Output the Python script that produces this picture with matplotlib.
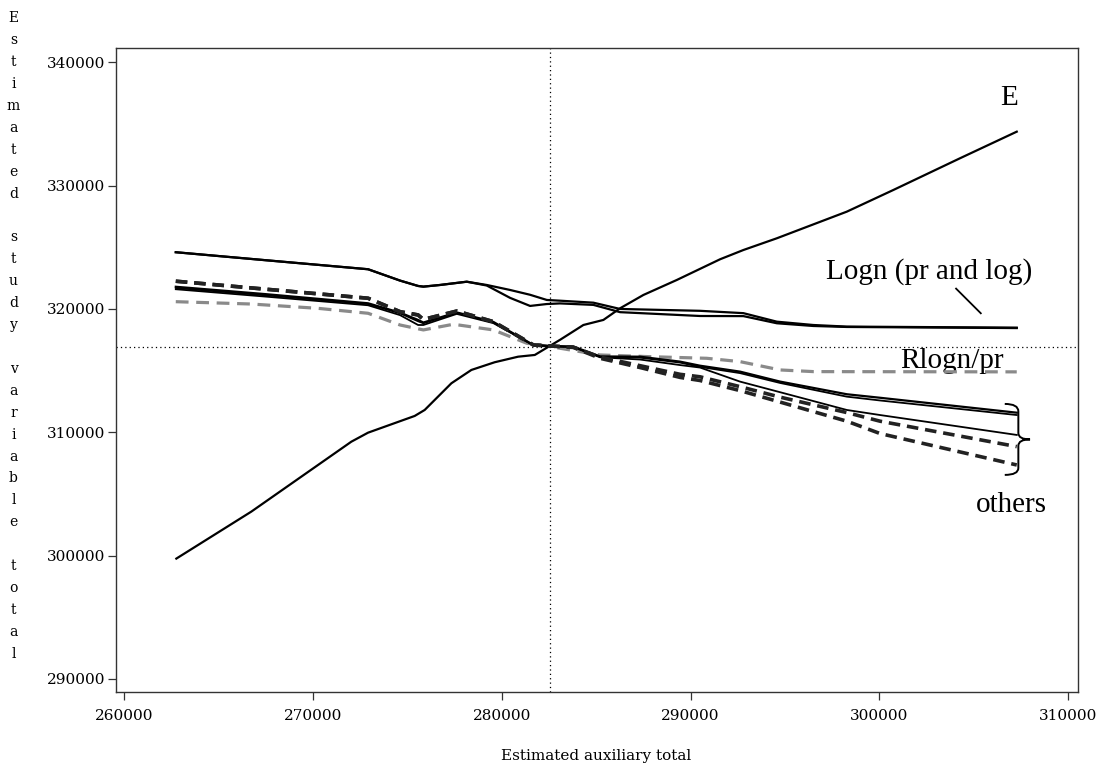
import matplotlib
matplotlib.use("Agg")
import matplotlib.pyplot as plt
from matplotlib.path import Path
from matplotlib.patches import PathPatch

# ---------------- data ----------------
x_ticks = [260000, 270000, 280000, 290000, 300000, 310000]
y_ticks = [290000, 300000, 310000, 320000, 330000, 340000]

x_ref = 282555   # vertical dotted reference line
y_ref = 316950   # horizontal dotted reference line

# E
e_x = [262750, 266725, 272025, 272910, 275380, 275910, 277325, 278385, 279620,
       280860, 281745, 282540, 283085, 284320, 285380, 286265, 287500, 289270,
       291565, 292800, 294570, 298280, 300750, 304280, 307285]
e_y = [299760, 303570, 309240, 309970, 311325, 311810, 313975, 315055, 315680,
       316130, 316270, 317000, 317500, 318700, 319110, 320055, 321135, 322350,
       324030, 324780, 325730, 327890, 329650, 332220, 334375]

# Logn (pr and log) - two lines
logn_x = [262720, 267500, 272910, 274605, 275560, 275840, 276725, 278140, 279200,
          280435, 281495, 282380, 283085, 284850, 286265, 290500, 292800, 294570,
          296500, 298280, 307285]
logn1_y = [324600, 323950, 323220, 322300, 321865, 321810, 321945, 322210, 321945,
           321540, 321150, 320730, 320670, 320510, 320000, 319850, 319660, 318970,
           318700, 318570, 318485]
logn2_y = [324600, 323950, 323220, 322300, 321865, 321810, 321945, 322210, 321900,
           320900, 320245, 320400, 320450, 320330, 319740, 319430, 319420, 318840,
           318620, 318540, 318450]

# Rlogn/pr (grey dashed)
rl_x = [262720, 266725, 270260, 272910, 274605, 275840, 277430, 279550, 281320,
        282555, 285205, 287850, 290860, 292620, 294745, 296510, 307285]
rl_y = [320590, 320400, 320050, 319650, 318700, 318300, 318760, 318300, 317220,
        316950, 316270, 316130, 316000, 315730, 315055, 314920, 314900]

# others: three solid, two dashed
oth_x = [262720, 267500, 272910, 274605, 275560, 275840, 277610, 279550, 281670,
         282555, 283790, 285205, 287325, 289445, 290500, 292620, 294745, 298280,
         300040, 307285]
s1_y = [321800, 321200, 320460, 319700, 319110, 318900, 319720, 318950, 317080,
        317000, 316950, 316150, 316130, 315730, 315400, 314920, 314110, 313085,
        312800, 311590]
s2_y = [321700, 321100, 320400, 319650, 319000, 318840, 319680, 318900, 317060,
        316990, 316930, 316120, 316050, 315650, 315300, 314800, 314000, 312890,
        312580, 311400]
s3_y = [321600, 321000, 320300, 319500, 318700, 318700, 319600, 318850, 317050,
        316980, 316900, 316080, 315900, 315450, 315250, 314110, 313250, 311810,
        311400, 309785]
d1_y = [322250, 321600, 320870, 319780, 319515, 319150, 319830, 318970, 317080,
        317000, 316900, 316100, 315400, 314700, 314500, 313700, 312850, 311600,
        310900, 308840]
d2_y = [322250, 321600, 320870, 319780, 319515, 319150, 319830, 318970, 317080,
        317000, 316880, 316000, 315250, 314450, 314200, 313380, 312450, 310900,
        309900, 307350]

# ---------------- figure ----------------
fig = plt.figure(figsize=(10.99, 7.74), dpi=100)
ax = fig.add_axes([0.1056, 0.106, 0.9806 - 0.1056, 0.9376 - 0.106])

ax.set_xlim(259555, 310514)
ax.set_ylim(288946, 341135)

# reference lines
ax.axvline(x_ref, color="black", lw=0.9, linestyle=(0, (1, 2.5)), zorder=1)
ax.axhline(y_ref, color="black", lw=0.9, linestyle=(0, (1, 2.5)), zorder=1)

# curves
ax.plot(e_x, e_y, color="black", lw=1.6, zorder=3)
ax.plot(logn_x, logn1_y, color="black", lw=1.6, zorder=3)
ax.plot(logn_x, logn2_y, color="black", lw=1.6, zorder=3)
ax.plot(rl_x, rl_y, color="#8a8a8a", lw=2.3, linestyle=(0, (4.0, 2.4)), zorder=2)
ax.plot(oth_x, s1_y, color="black", lw=1.6, zorder=3)
ax.plot(oth_x, s2_y, color="black", lw=1.3, zorder=3)
ax.plot(oth_x, s3_y, color="black", lw=1.3, zorder=3)
ax.plot(oth_x, d1_y, color="#222222", lw=2.6, linestyle=(0, (3.2, 1.9)), zorder=3)
ax.plot(oth_x, d2_y, color="#222222", lw=2.6, linestyle=(0, (3.2, 1.9)), zorder=3)

# annotations
lab_font = dict(family="Liberation Serif", size=21, color="black")
ax.text(306875, 336540, "E", ha="center", va="baseline", **lab_font)
ax.text(302630, 322490, "Logn (pr and log)", ha="center", va="baseline", **lab_font)
ax.text(303840, 315190, "Rlogn/pr", ha="center", va="baseline", zorder=1, **lab_font)
ax.text(306985, 303570, "others", ha="center", va="baseline", **lab_font)
ax.plot([304070, 305380], [321650, 319650], color="black", lw=1.3)

# brace around the "others" line ends
bx0 = oth_x[-1] - 635
bxs = oth_x[-1] + 85
bxt = oth_x[-1] + 705
btop = s1_y[-1] + 710
bbot = d2_y[-1] - 805
bmid = (btop + bbot) / 2
verts = [(bx0, btop), (bxs, btop), (bxs, btop - 600),
         (bxs, bmid + 520), (bxs, bmid), (bxt, bmid),
         (bxs, bmid), (bxs, bmid - 520),
         (bxs, bbot + 560), (bxs, bbot), (bx0, bbot)]
codes = [Path.MOVETO, Path.CURVE3, Path.CURVE3,
         Path.LINETO, Path.CURVE3, Path.CURVE3,
         Path.CURVE3, Path.CURVE3,
         Path.LINETO, Path.CURVE3, Path.CURVE3]
ax.add_patch(PathPatch(Path(verts, codes), facecolor="none", edgecolor="black",
                       lw=1.4, clip_on=False))

# axes styling
tick_font = dict(family="DejaVu Serif", size=11)
ax.set_xticks(x_ticks)
ax.set_yticks(y_ticks)
ax.set_xticklabels([str(v) for v in x_ticks], **tick_font)
ax.set_yticklabels([str(v) for v in y_ticks], **tick_font)
ax.tick_params(axis="both", direction="out", length=5.5, width=0.9, color="#333333")
ax.tick_params(axis="x", pad=7)
ax.tick_params(axis="y", pad=2.5)
for sp in ax.spines.values():
    sp.set_linewidth(1.0)
    sp.set_color("#333333")

# x label
fig.text(596 / 1099, 1 - 756 / 774, "Estimated auxiliary total", ha="center",
         va="center", family="DejaVu Serif", size=11)

# y label: one letter per line
ylab = "Estimated study variable total"
fig.text(13.5 / 1099, 1 - 336 / 774, "\n".join(ylab), ha="center", va="center",
         multialignment="center", family="DejaVu Serif", size=10, linespacing=1.72)

fig.savefig("out.png", dpi=100)
